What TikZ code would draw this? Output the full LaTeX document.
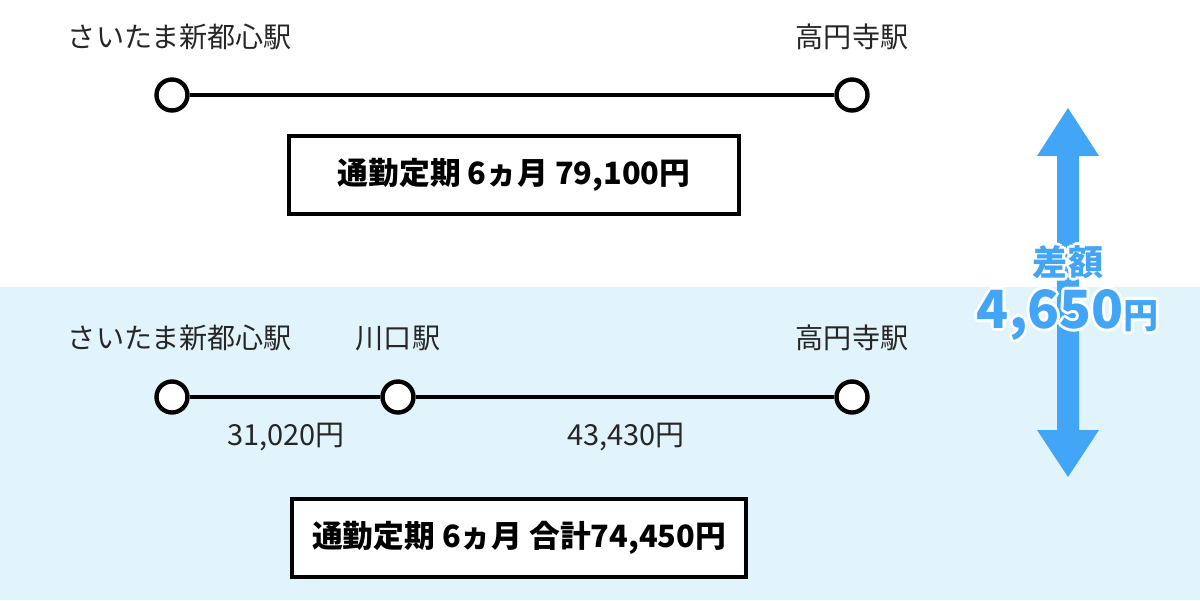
\documentclass[tikz,border=0pt]{standalone}
\usepackage{fontspec}
\setmainfont{Noto Sans CJK JP}
\usetikzlibrary{positioning}
\definecolor{lightblue}{RGB}{225,244,251}
\definecolor{arrowblue}{RGB}{66,165,245}

\begin{document}
\begin{tikzpicture}[x=0.02cm,y=-0.02cm,
    station/.style={draw,circle,line width=2.5pt,fill=white,minimum size=0.62cm,inner sep=0pt},
    rail/.style={line width=2.5pt},
    stname/.style={font=\fontsize{16}{20}\selectfont,text=black!85},
    price/.style={font=\fontsize{16.5}{20}\selectfont,text=black!85},
    farebox/.style={draw,line width=1.8pt,fill=white,minimum width=9cm,minimum height=1.56cm,font=\bfseries\fontsize{17.5}{22}\selectfont},
    gaptext/.style={font=\bfseries\fontsize{20}{24}\selectfont},
    amounttext/.style={font=\bfseries\fontsize{30}{36}\selectfont}
]
\useasboundingbox (0,0) rectangle (1200,600);
\fill[lightblue] (0,287) rectangle (1200,600);

% direct route
\node[station] (a1) at (172,95) {};
\node[station] (b1) at (852,95) {};
\draw[rail] (a1) -- (b1);
\node[stname] (na1) at (180,37) {さいたま新都心駅};
\node[stname] (nb1) at (852,37) {高円寺駅};
\node[farebox] (fare1) at (514,175) {通勤定期 6ヵ月 79,100円};

% split route
\node[station] (a2) at (172,397) {};
\node[station] (k2) at (398,397) {};
\node[station] (b2) at (852,397) {};
\draw[rail] (a2) -- (k2) -- (b2);
\node[stname] (na2) at (180,338) {さいたま新都心駅};
\node[stname] (nk2) at (398,338) {川口駅};
\node[stname] (nb2) at (852,338) {高円寺駅};
\node[price] (p1) at (286,437) {31,020円};
\node[price] (p2) at (626,437) {43,430円};
\node[farebox,minimum width=9.08cm] (fare2) at (519,538) {通勤定期 6ヵ月 合計74,450円};

% difference
\fill[arrowblue] (1068,108) -- (1099,156) -- (1079,156) -- (1079,430) -- (1099,430)
    -- (1068,477) -- (1037,430) -- (1057,430) -- (1057,156) -- (1037,156) -- cycle;
\foreach \dx/\dy in {-3/0,3/0,0/-3,0/3,-2/-2,2/2,-2/2,2/-2} {
    \node[gaptext,text=white] at (1068+\dx,262+\dy) {差額};
    \node[amounttext,text=white] at (1068+\dx,315+\dy) {4,650{\fontsize{20}{24}\selectfont 円}};
}
\node[gaptext,text=arrowblue] (diff) at (1068,262) {差額};
\node[amounttext,text=arrowblue] (amount) at (1068,315) {4,650{\fontsize{20}{24}\selectfont 円}};
\end{tikzpicture}
\end{document}
